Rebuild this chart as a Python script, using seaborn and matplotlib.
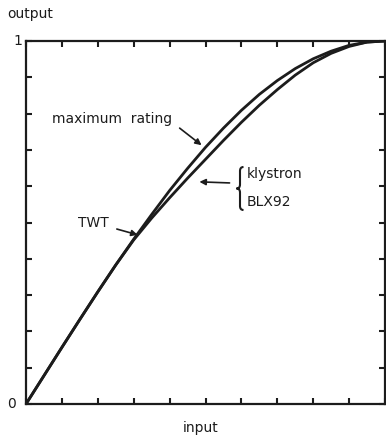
import matplotlib
matplotlib.use("Agg")
import matplotlib.pyplot as plt
from matplotlib.path import Path
from matplotlib.patches import PathPatch
import seaborn as sns
import pandas as pd
import numpy as np

# ---- data (normalised input / output) ----
x_input = [0.00, 0.05, 0.10, 0.15, 0.20, 0.25, 0.30, 0.35, 0.40, 0.45, 0.50,
           0.55, 0.60, 0.65, 0.70, 0.75, 0.80, 0.85, 0.90, 0.95, 1.00]
max_rating = [0.000, 0.078, 0.156, 0.233, 0.309, 0.383, 0.454, 0.522, 0.588, 0.649, 0.707,
              0.760, 0.809, 0.853, 0.891, 0.924, 0.951, 0.972, 0.988, 0.997, 1.000]
klystron = [0.000, 0.078, 0.156, 0.233, 0.309, 0.383, 0.452, 0.512, 0.568, 0.622, 0.674,
            0.726, 0.776, 0.823, 0.866, 0.906, 0.940, 0.966, 0.985, 0.997, 1.000]
tick_vals = [0.0, 0.1, 0.2, 0.3, 0.4, 0.5, 0.6, 0.7, 0.8, 0.9, 1.0]

df = pd.DataFrame({
    "input": x_input * 2,
    "output": max_rating + klystron,
    "curve": ["maximum rating"] * len(x_input) + ["klystron"] * len(x_input),
})

sns.set_theme(style="white")
plt.rcParams["font.family"] = ["DejaVu Sans"]
ink = "#1c1c1c"

fig = plt.figure(figsize=(3.86, 4.38), dpi=100)
ax = fig.add_axes([26 / 386, 34 / 438, 359 / 386, 363 / 438])

sns.lineplot(data=df, x="input", y="output", hue="curve",
             palette={"maximum rating": ink, "klystron": ink},
             linewidth=2.0, legend=False, ax=ax, sort=False)

ax.set_xlim(0, 1)
ax.set_ylim(0, 1)
ax.set_xticks(tick_vals)
ax.set_yticks(tick_vals)
ax.set_xticklabels([])
ax.set_yticklabels([])
ax.tick_params(direction="in", length=4, width=1.5, color=ink,
               top=True, right=True, bottom=True, left=True)
for s in ax.spines.values():
    s.set_color(ink)
    s.set_linewidth(1.6)
ax.set_xlabel("")
ax.set_ylabel("")

fs = 10
ax.text(-0.022, 1.0, "1", ha="center", va="center", fontsize=fs, color=ink,
        transform=ax.transAxes)
ax.text(-0.039, 0.0, "0", ha="center", va="center", fontsize=fs, color=ink,
        transform=ax.transAxes)
fig.text(30 / 386, 1 - 14 / 438, "output", ha="center", va="center", fontsize=fs, color=ink)
fig.text(201 / 386, 1 - 428 / 438, "input", ha="center", va="center", fontsize=fs, color=ink)

arrow = dict(arrowstyle="-|>", color=ink, lw=1.2, mutation_scale=9,
             shrinkA=0, shrinkB=0)
ax.text(0.239, 0.785, "maximum  rating", ha="center", va="center", fontsize=fs, color=ink)
ax.annotate("", xy=(0.489, 0.713), xytext=(0.428, 0.760), arrowprops=arrow)

ax.text(0.189, 0.499, "TWT", ha="center", va="center", fontsize=fs, color=ink)
ax.annotate("", xy=(0.311, 0.466), xytext=(0.253, 0.482), arrowprops=arrow)

# curly brace grouping the klystron / BLX92 labels (drawn in axes fractions)
def _p(px, py):
    return ((px - 26) / 359, (404 - py) / 363)

brace_pts = [_p(243.5, 167), _p(240, 167), _p(240, 171),
             _p(240, 184.5),
             _p(240, 188.5), _p(236.5, 188.5),
             _p(240, 188.5), _p(240, 192.5),
             _p(240, 206),
             _p(240, 210), _p(243.5, 210)]
brace_codes = [Path.MOVETO, Path.CURVE3, Path.CURVE3, Path.LINETO,
               Path.CURVE3, Path.CURVE3, Path.CURVE3, Path.CURVE3,
               Path.LINETO, Path.CURVE3, Path.CURVE3]
ax.add_patch(PathPatch(Path(brace_pts, brace_codes), fill=False, edgecolor=ink,
                       lw=1.5, transform=ax.transAxes))

ax.text(0.614, 0.634, "klystron", ha="left", va="center", fontsize=fs, color=ink)
ax.text(0.614, 0.556, "BLX92", ha="left", va="center", fontsize=fs, color=ink)
ax.annotate("", xy=(0.483, 0.612), xytext=(0.567, 0.609), arrowprops=arrow)

fig.savefig("out.png", dpi=100)
